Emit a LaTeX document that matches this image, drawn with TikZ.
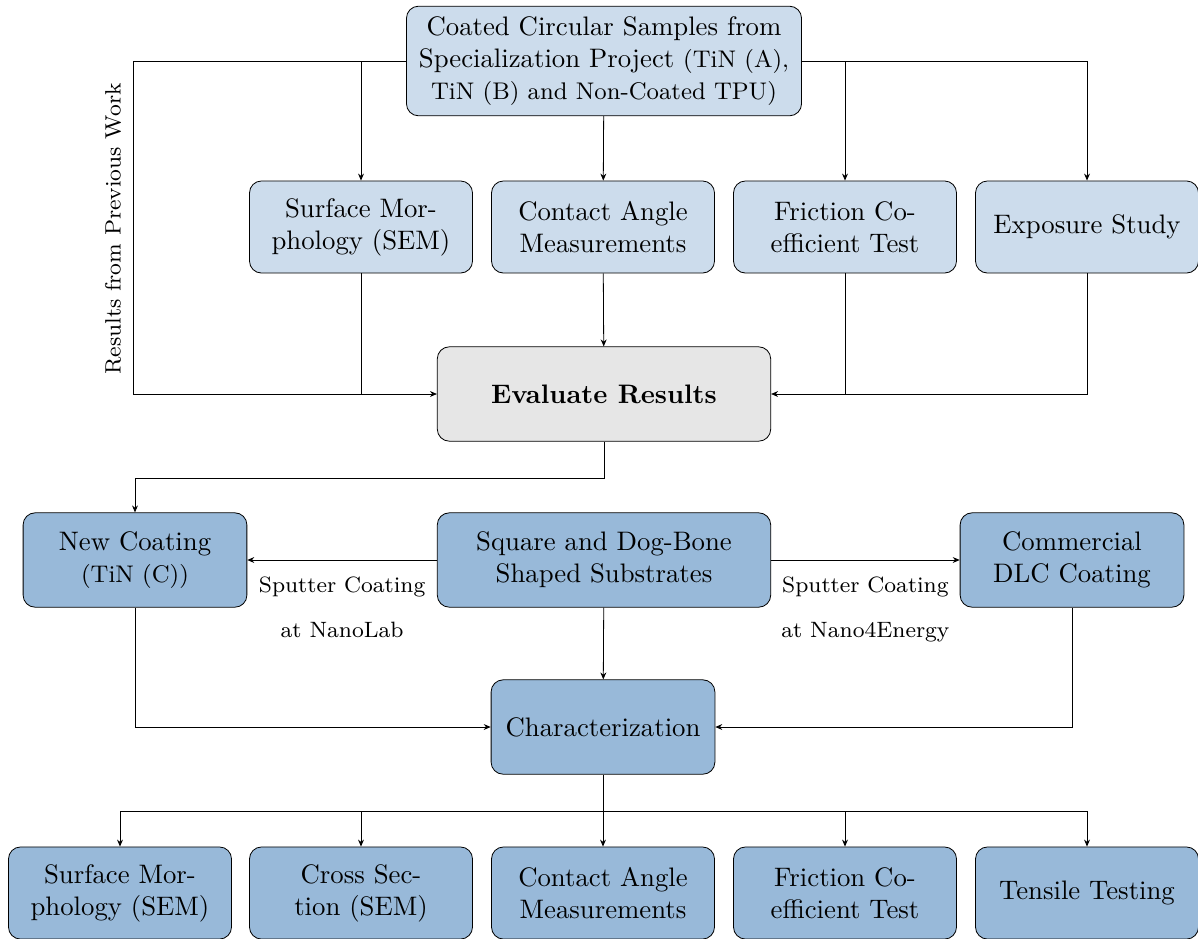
\documentclass[tikz,border=0pt]{standalone}
\usetikzlibrary{arrows.meta}
\definecolor{paleblue}{HTML}{CCDCEC}
\definecolor{deepblue}{HTML}{98B9D9}
\definecolor{palegray}{HTML}{E6E6E6}
\begin{document}
\begin{tikzpicture}[x=0.01314cm, y=-0.01314cm,
    >={Stealth[length=2.6pt,width=2.2pt]},
    every path/.style={line width=0.3pt},
    box/.style={draw, rounded corners=4.5pt, align=center, inner sep=2pt},
    oldbox/.style={box, fill=paleblue, minimum width=2.93cm, minimum height=1.21cm},
    newbox/.style={box, fill=deepblue, minimum width=2.94cm, minimum height=1.24cm},
    testbox/.style={box, fill=deepblue, minimum width=2.93cm, minimum height=1.21cm},
    lbl/.style={font=\fontsize{8.3}{10}\selectfont, align=center, inner sep=1pt}]
  \useasboundingbox (0,0) rectangle (1198,938);
  % previous work
  \node[box, fill=paleblue, minimum width=5.19cm, minimum height=1.44cm] (samples) at (604,61)
    {Coated Circular Samples from\\Specialization Project {\small (TiN (A),}\\{\small TiN (B) and Non-Coated TPU)}};
  \node[oldbox] (sem0) at (361,227) {Surface Mor-\\phology (SEM)};
  \node[oldbox] (ca0) at (603,227) {Contact Angle\\Measurements};
  \node[oldbox] (fric0) at (845,227) {Friction Co-\\efficient Test};
  \node[oldbox] (expo) at (1087,227) {Exposure Study};
  \node[box, fill=palegray, minimum width=4.38cm, minimum height=1.24cm] (eval) at (604,394)
    {\textbf{Evaluate Results}};
  \node[rotate=90, font=\fontsize{8.3}{10}\selectfont] (prev) at (113,229) {Results from Previous Work};
  \coordinate (prevcorner) at (133,394);
  % new work
  \node[newbox] (newcoat) at (135,560) {New Coating\\{\small (TiN (C))}};
  \node[newbox, minimum width=4.38cm] (subst) at (604,560) {Square and Dog-Bone\\Shaped Substrates};
  \node[newbox] (dlc) at (1072,560) {Commercial\\DLC Coating};
  \node[newbox] (charac) at (603,727) {Characterization};
  \coordinate (split) at (603,811);
  \node[testbox] (t1) at (120,893) {Surface Mor-\\phology (SEM)};
  \node[testbox] (t2) at (361,893) {Cross Sec-\\tion (SEM)};
  \node[testbox] (t3) at (603,893) {Contact Angle\\Measurements};
  \node[testbox] (t4) at (845,893) {Friction Co-\\efficient Test};
  \node[testbox] (t5) at (1087,893) {Tensile Testing};

  \draw[->] (samples.west) -| (prevcorner) -- (eval.west);
  \draw[->] (sem0.north |- samples.west) -- (sem0.north);
  \draw[->] (samples) -- (ca0);
  \draw[->] (samples.east) -| (expo.north);
  \draw[->] (fric0.north |- samples.east) -- (fric0.north);
  \draw (sem0.south) -- (sem0.south |- eval.west);
  \draw[->] (ca0) -- (eval);
  \draw (fric0.south) -- (fric0.south |- eval.east);
  \draw[->] (expo.south) |- (eval.east);

  \draw[->] (eval.south) -- ++(0,37) -| (newcoat.north);
  \draw[->] (subst.west) -- node[lbl, below=5pt] (lblnano) {Sputter Coating\\[7pt]at NanoLab} (newcoat.east);
  \draw[->] (subst.east) -- node[lbl, below=5pt] (lblnano4) {Sputter Coating\\[7pt]at Nano4Energy} (dlc.west);
  \draw[->] (subst) -- (charac);
  \draw[->] (newcoat.south) |- (charac.west);
  \draw[->] (dlc.south) |- (charac.east);
  \draw (charac.south) -- (split);
  \foreach \n in {t1,t2,t3,t4,t5}
    \draw[->] (split) -| (\n.north);
\end{tikzpicture}
\end{document}
